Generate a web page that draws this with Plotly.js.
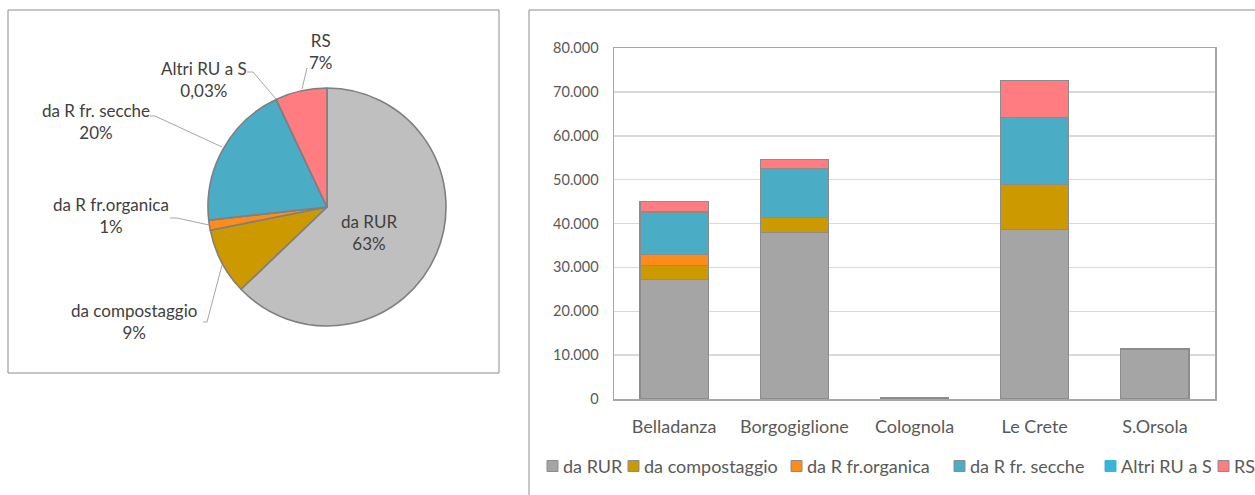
<!DOCTYPE html>
<html><head><meta charset="utf-8">
<script src="https://cdn.plot.ly/plotly-3.0.1.min.js"></script>
<style>html,body{margin:0;padding:0;background:#fff;overflow:hidden}#c{width:1255px;height:495px}</style>
</head><body><div id="c"></div>
<script>
const categories = ['Belladanza','Borgogiglione','Colognola','Le Crete','S.Orsola'];
const seriesNames = ['da RUR','da compostaggio','da R fr.organica','da R fr. secche','Altri RU a S','RS'];
const daRUR        = [27300, 38000, 250, 38600, 11400];
const daCompost    = [3100, 3300, 0, 10200, 0];
const daOrganica   = [2500, 0, 0, 0, 0];
const daSecche     = [9700, 11250, 0, 15300, 0];
const altriRU      = [20, 15, 0, 20, 0];
const rs           = [2450, 2050, 0, 8400, 0];
const yTicks = [0,10000,20000,30000,40000,50000,60000,70000,80000];

const series = [daRUR, daCompost, daOrganica, daSecche, altriRU, rs];
const barColors = ['#A5A5A5','#CC9900','#FF8C1A','#4BACC6','#37B6DA','#FF7C80'];
const pieColors = ['#BFBFBF','#CC9900','#FF8C1A','#4BACC6','#37B6DA','#FF7C80'];
const sum = a => a.reduce((s,v)=>s+v,0);
const pieValues = series.map(sum);
const total = sum(pieValues);

const W=1255,H=495;
const px = x => x/W, py = y => 1-y/H;
const FONT = 'Lato, "Open Sans", sans-serif';

const traces = series.map((vals,i)=>({
  type:'bar', x:categories, y:vals, name:seriesNames[i],
  marker:{color:barColors[i], line:{color:'#8C8C8C', width:1.2}},
  xaxis:'x', yaxis:'y', hoverinfo:'skip', showlegend:false
}));

traces.push({
  type:'pie', labels:seriesNames, values:pieValues, sort:false, direction:'clockwise', rotation:0,
  marker:{colors:pieColors, line:{color:'#7F7F7F', width:1.6}},
  textinfo:'none', showlegend:false, hoverinfo:'skip',
  domain:{x:[px(208),px(446)], y:[py(326),py(88)]}
});

function pct(i){
  const p = pieValues[i]/total*100;
  return (p<0.5 ? p.toFixed(2) : p.toFixed(0)).replace('.',',')+'%';
}
const labelPos = [[369,232],[134,321],[111,216],[96,121],[204,79],[321,51]];
const leaders = [null,
  [[203,322],[207,322],[222,265]],
  [[170,218],[177,218],[209,225]],
  [[150,116],[155,116],[222,147]],
  [[247,72],[253,72],[276,99]],
  [[307,68],[302,89]]];
const annotations = seriesNames.map((n,i)=>({
  xref:'paper', yref:'paper', x:px(labelPos[i][0]), y:py(labelPos[i][1]),
  xanchor:'center', yanchor:'middle',
  text:n+'<br>'+pct(i), showarrow:false, align:'center',
  font:{family:FONT, size:17, color:'#404040'}
}));
const shapes = [
  {type:'rect', xref:'paper', yref:'paper', x0:px(8), x1:px(499), y0:py(373), y1:py(10), line:{color:'#8C8C8C', width:1}},
  {type:'path', xref:'paper', yref:'paper', path:`M${px(529)},${py(496)} L${px(529)},${py(10)} L${px(1256)},${py(10)}`, line:{color:'#8C8C8C', width:1}}
];
leaders.forEach(l=>{ if(!l) return;
  shapes.push({type:'path', xref:'paper', yref:'paper',
    path: l.map((p,k)=>(k?'L':'M')+px(p[0])+','+py(p[1])).join(' '),
    line:{color:'#A6A6A6', width:1}});
});
// custom legend (compact, like the original)
const legendX = [547, 628, 791, 954, 1105, 1218];
const legendY = 466;
seriesNames.forEach((n,i)=>{
  const x = legendX[i];
  shapes.push({type:'rect', xref:'paper', yref:'paper', x0:px(x), x1:px(x+11), y0:py(legendY+5.5), y1:py(legendY-5.5),
    fillcolor:barColors[i], line:{color: i===4 ? barColors[i] : '#8C8C8C', width:1}});
  annotations.push({xref:'paper', yref:'paper', x:px(x+14), y:py(legendY), xanchor:'left', yanchor:'middle',
    text:n, showarrow:false, font:{family:FONT, size:18, color:'#595959'}});
});

const layout = {
  width:W, height:H, margin:{l:0,r:0,t:0,b:0, autoexpand:false}, paper_bgcolor:'#fff', plot_bgcolor:'#fff',
  separators:',.', barmode:'stack', bargap:0.434, showlegend:false,
  font:{family:FONT, color:'#595959'},
  xaxis:{domain:[px(614),px(1215)], tickfont:{size:18,color:'#595959'}, showline:true, mirror:true,
    linecolor:'#A6A6A6', linewidth:1.5, ticks:'', ticklabelstandoff:11, fixedrange:true},
  yaxis:{domain:[py(399),py(48)], range:[0,80000], tickvals:yTicks, tickformat:',.0f',
    tickfont:{size:14.5,color:'#595959'}, gridcolor:'#D9D9D9', gridwidth:1.5, showline:true, mirror:true,
    linecolor:'#A6A6A6', linewidth:1.5, zeroline:false, ticks:'', ticklabelstandoff:11, fixedrange:true},
  annotations, shapes
};
Plotly.newPlot('c', traces, layout, {staticPlot:true});
</script></body></html>
